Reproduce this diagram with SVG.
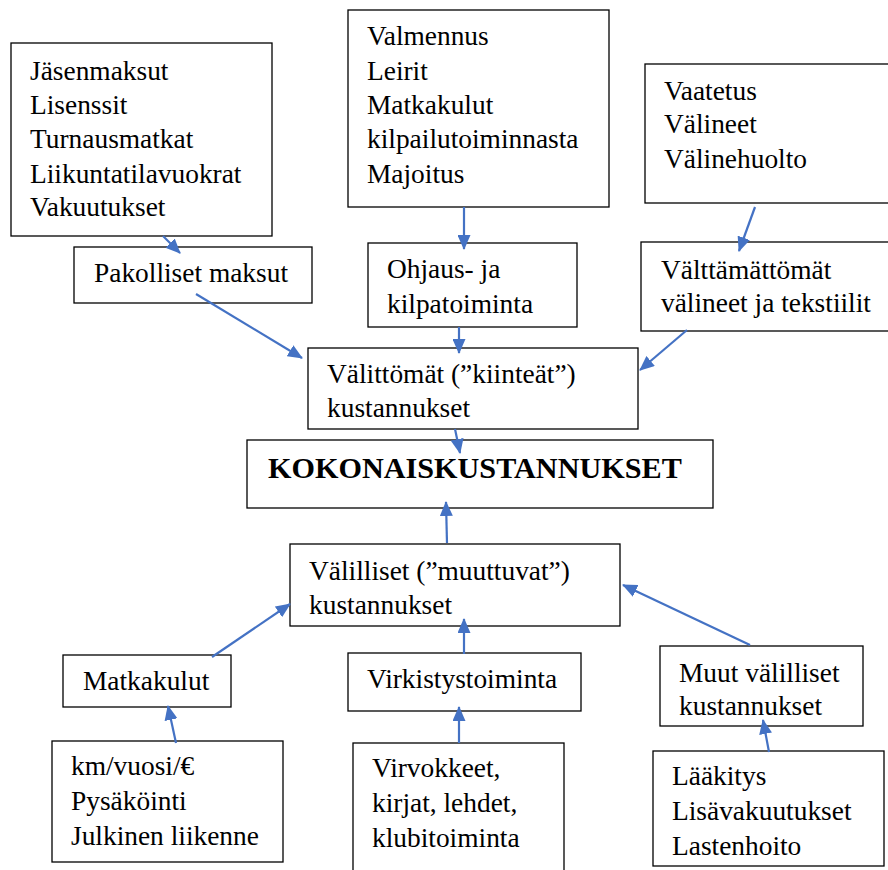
<svg xmlns="http://www.w3.org/2000/svg" width="888" height="870" viewBox="0 0 888 870">
<style>
rect{fill:#fff;stroke:#000;stroke-width:1.3}
text{font-family:"Times New Roman","Liberation Serif",Tinos,serif;font-size:27.4px;font-weight:normal;fill:#000}
.b{font-weight:bold;font-size:30.2px}
.c{stroke:#4472C4;stroke-width:2.2;fill:none;marker-end:url(#ah)}
</style>
<defs>
<marker id="ah" markerUnits="userSpaceOnUse" markerWidth="15" markerHeight="13" refX="14" refY="6.5" orient="auto"><path d="M0,0 L15,6.5 L0,13 z" fill="#4472C4"/></marker>
</defs>
<rect x="0" y="0" width="888" height="870" style="stroke:none"/>
<g id="n-jasen"><rect x="11" y="43" width="261" height="193"/>
<text x="30" y="80">Jäsenmaksut</text><text x="30" y="114">Lisenssit</text><text x="30" y="148">Turnausmatkat</text><text x="30" y="183">Liikuntatilavuokrat</text><text x="30" y="216">Vakuutukset</text></g>
<g id="n-pakolliset"><rect x="74" y="247" width="238" height="56"/><text x="94" y="282">Pakolliset maksut</text></g>
<g id="n-valmennus"><rect x="348" y="10" width="261" height="197"/>
<text x="367" y="45">Valmennus</text><text x="367" y="80">Leirit</text><text x="367" y="114">Matkakulut</text><text x="367" y="148">kilpailutoiminnasta</text><text x="367" y="183">Majoitus</text></g>
<g id="n-ohjaus"><rect x="368" y="243" width="209" height="84"/><text x="387" y="278">Ohjaus- ja</text><text x="387" y="313">kilpatoiminta</text></g>
<g id="n-vaatetus"><rect x="645" y="64" width="250" height="139"/>
<text x="664" y="100">Vaatetus</text><text x="664" y="133">Välineet</text><text x="664" y="168">Välinehuolto</text></g>
<g id="n-valttamattomat"><rect x="641" y="242" width="254" height="89"/><text x="661" y="279">Välttämättömät</text><text x="661" y="312">välineet ja tekstiilit</text></g>
<g id="n-valittomat"><rect x="308" y="348" width="330" height="81"/><text x="327" y="383">Välittömät (”kiinteät”)</text><text x="327" y="417">kustannukset</text></g>
<g id="n-kokonais"><rect x="247" y="440" width="466" height="68"/><text class="b" x="268" y="478">KOKONAISKUSTANNUKSET</text></g>
<g id="n-valilliset"><rect x="290" y="544" width="330" height="82"/><text x="309" y="580">Välilliset (”muuttuvat”)</text><text x="309" y="614">kustannukset</text></g>
<g id="n-matkakulut"><rect x="63" y="655" width="168" height="52"/><text x="83" y="690">Matkakulut</text></g>
<g id="n-km"><rect x="52" y="741" width="231" height="121"/><text x="71" y="775">km/vuosi/€</text><text x="71" y="810">Pysäköinti</text><text x="71" y="845">Julkinen liikenne</text></g>
<g id="n-virkistys"><rect x="348" y="653" width="233" height="58"/><text x="367" y="688">Virkistystoiminta</text></g>
<g id="n-virvokkeet"><rect x="353" y="743" width="211" height="140"/><text x="372" y="777">Virvokkeet,</text><text x="372" y="812">kirjat, lehdet,</text><text x="372" y="847">klubitoiminta</text></g>
<g id="n-muut"><rect x="660" y="646" width="203" height="80"/><text x="679" y="682">Muut välilliset</text><text x="679" y="715">kustannukset</text></g>
<g id="n-laakitys"><rect x="653" y="751" width="231" height="115"/><text x="672" y="785">Lääkitys</text><text x="672" y="820">Lisävakuutukset</text><text x="672" y="855">Lastenhoito</text></g>
<g id="connectors">
<line class="c" x1="163" y1="236" x2="180" y2="253"/>
<line class="c" x1="196" y1="294" x2="302" y2="358"/>
<line class="c" x1="464" y1="207" x2="464" y2="249"/>
<line class="c" x1="459" y1="327" x2="459" y2="353"/>
<line class="c" x1="755" y1="207" x2="739" y2="251"/>
<line class="c" x1="687" y1="330" x2="640" y2="370"/>
<line class="c" x1="455" y1="429" x2="460" y2="453"/>
<line class="c" x1="447" y1="543" x2="446" y2="502"/>
<line class="c" x1="212" y1="657" x2="290" y2="604"/>
<line class="c" x1="176" y1="743" x2="168" y2="706"/>
<line class="c" x1="464" y1="654" x2="464" y2="619"/>
<line class="c" x1="459" y1="743" x2="459" y2="707"/>
<line class="c" x1="750" y1="645" x2="623" y2="585"/>
<line class="c" x1="769" y1="752" x2="763" y2="720"/>
</g>
</svg>
